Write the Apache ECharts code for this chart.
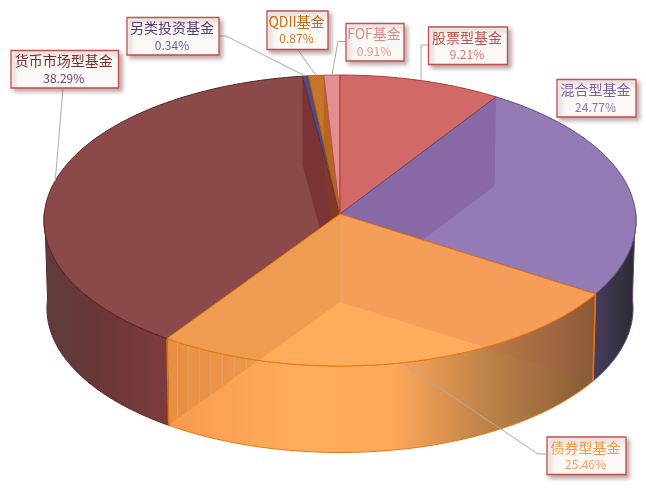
<!DOCTYPE html>
<html><head><meta charset="utf-8">
<style>html,body{margin:0;padding:0;background:#fff}#c{width:646px;height:490px}</style>
<script src="https://cdn.jsdelivr.net/npm/echarts@6/dist/echarts.min.js"></script>
</head><body><div id="c"></div>
<script>
// ---- data ----
const categories = ['股票型基金','混合型基金','债券型基金','货币市场型基金','另类投资基金','QDII基金','FOF基金'];
const shares = [9.21,24.77,25.46,38.29,0.34,0.87,0.91];
const percentLabels = ['9.21%','24.77%','25.46%','38.29%','0.34%','0.87%','0.91%'];
// ---- style ----
const topColors   = ['#D16A66','#957BB5','#FFAC5C','#8B4949','#5A4A78','#C8742B','#E38F90'];
const edgeColors  = ['#A83C3C','#5F4A80','#EC750E','#5C2525','#43365F','#B5600F','#B8505A'];
const textColors  = ['#C0504D','#7B62A8','#F79646','#7B2C2C','#4F3F75','#C56A10','#E08A8A'];
const pctColors   = ['#DE7A70','#8A72BA','#F7A05C','#6F3F5F','#5068A8','#C87828','#E8948C'];
const wallTints = [
  null,
  {start:'rgba(90,40,110,0.22)'},
  {start:'rgba(190,80,80,0.15)', end:'rgba(160,90,30,0.18)'},
  {end:'rgba(90,0,10,0.30)'},
  null,
  {end:'rgba(150,70,0,0.30)'},
  null
];
// box x,y,w,h per label, then the elbow of its leader line
const labelBoxes = [[428.5,27,79,37.5],[557,79.5,79,37.5],[547,437,79,37.5],[11,50.5,107.5,37.5],[127,17.5,92,37.5],[267,11,61,38.5],[346,23.5,58,37.5]];
const leaderStarts = [[428,45],null,[546,454],[63,88],[219,36],[298,50],[345,41.5]];
const leaderElbows = [[421,45],null,[538,454],null,[226,36],null,[338,41.5]];
// draw order of tops
const topOrder = [3,4,5,6,0,1,2];

// ---- projection ----
const CX=340,CY=214,A=295.7,B=145.2,K=0.0447,H=88,S=0.99;
const total = shares.reduce((a,b)=>a+b,0);
const bounds=[0];shares.forEach((v,i)=>bounds.push(bounds[i]+v/total*Math.PI*2));
function proj(t,low){
  const u=Math.sin(t),v=-Math.cos(t),d=1-K*v;
  const s=low?S:1;
  return [CX+s*A*u/d, CY+(low?H:0)+s*B*v/d];
}
const apex=low=>[CX,CY+(low?H:0)];
function arc(t1,t2,low){
  const n=Math.max(2,Math.ceil(Math.abs(t2-t1)/0.015)),p=[];
  for(let i=0;i<=n;i++)p.push(proj(t1+(t2-t1)*i/n,low));
  return p;
}
const G=echarts.graphic.LinearGradient;
const sideFills={
  1:new G(0,0,1,0,[{offset:0,color:'#4A3D5F'},{offset:.5,color:'#393247'},{offset:1,color:'#2B2A35'}]),
  2:new G(0,0,1,0,[{offset:0,color:'#F79A4C'},{offset:.3,color:'#FFAC5C'},{offset:.52,color:'#FFAA5A'},{offset:.63,color:'#E09650'},{offset:.74,color:'#BE8448'},{offset:.88,color:'#A06E40'},{offset:1,color:'#825A32'}]),
  3:new G(0,0,1,0,[{offset:0,color:'#5F3C3C'},{offset:.4,color:'#693636'},{offset:1,color:'#7E3C3C'}])
};
const mk=(pts,style,z2)=>({type:'polygon',shape:{points:pts},style,z2:z2||0,silent:true});

function renderSide(p,api){
  const i=api.value(0);
  if(!sideFills[i])return;
  const a=Math.max(bounds[i],Math.PI/2-0.02),b=Math.min(bounds[i+1],Math.PI*1.5+0.02);
  const pts=arc(a,b,false).concat(arc(b,a,true));
  const kids=[mk(pts,{fill:sideFills[i],stroke:edgeColors[i],lineWidth:1})];
  if(i===2){
    // seams seen through the translucent left wall
    const c0=proj(bounds[3],true),c1=apex(true);
    for(let k=1;k<=8;k++){
      const top=proj(bounds[3]-k*0.0415,false);
      const f=(top[0]-c0[0])/(c1[0]-c0[0]);
      kids.push({type:'line',shape:{x1:top[0],y1:top[1],x2:top[0],y2:c0[1]+(c1[1]-c0[1])*f},
        style:{stroke:'rgba(255,215,160,0.3)',lineWidth:1},z2:2,silent:true});
    }
    [bounds[2],bounds[3]].forEach(t=>{const q=proj(t,false),r=proj(t,true);
      kids.push({type:'line',shape:{x1:q[0],y1:q[1],x2:r[0],y2:r[1]},style:{stroke:edgeColors[2],lineWidth:1.5},z2:3,silent:true});});
  }
  return {type:'group',children:kids};
}
function wall(t){const a=proj(t,false),b=proj(t,true);return [apex(false),a,b,apex(true)];}
function renderTop(p,api){
  const i=api.value(0);
  const z=topOrder.indexOf(i)*10;
  const pts=[apex(false)].concat(arc(bounds[i],bounds[i+1],false));
  const kids=[mk(pts,{fill:topColors[i]},z)];
  const t=wallTints[i];
  if(t&&t.start)kids.push(mk(wall(bounds[i]),{fill:t.start},z+1));
  if(t&&t.end)kids.push(mk(wall(bounds[i+1]),{fill:t.end},z+1));
  kids.push(mk(pts,{fill:'transparent',stroke:edgeColors[i],lineWidth:1,lineJoin:'round'},z+2));
  return {type:'group',children:kids};
}
function renderLeader(p,api){
  const i=api.value(0);
  if(!leaderStarts[i])return;
  const rim=proj((bounds[i]+bounds[i+1])/2,false);
  const pts=[leaderStarts[i]];if(leaderElbows[i])pts.push(leaderElbows[i]);pts.push(rim);
  return {type:'polyline',shape:{points:pts},style:{stroke:'#ABABAB',lineWidth:1,fill:'none'},silent:true};
}
function renderLabel(p,api){
  const i=api.value(0),b=labelBoxes[i];
  const font='"Noto Sans CJK SC","Noto Sans",sans-serif';
  const mid=b[0]+b[2]/2-1;
  return {type:'group',children:[
    {type:'rect',shape:{x:b[0],y:b[1],width:b[2],height:b[3]},
     style:{fill:'#FBF8F6',stroke:'#C0504D',lineWidth:1.3,shadowBlur:4,shadowOffsetX:3,shadowOffsetY:3,shadowColor:'rgba(120,70,70,0.45)'}},
    {type:'text',z2:2,style:{x:mid,y:b[1]+10.5,text:categories[i],fill:textColors[i],font:'14px '+font,align:'center',verticalAlign:'middle'}},
    {type:'text',z2:2,style:{x:mid,y:b[1]+27.5,text:percentLabels[i],fill:pctColors[i],font:'12px '+font,align:'center',verticalAlign:'middle'}}
  ]};
}
const idx=categories.map((_,i)=>[i,shares[i]]);
const ordered=topOrder.map(i=>[i,shares[i]]);
const chart=echarts.init(document.getElementById('c'),null,{renderer:'canvas',width:646,height:490});
chart.setOption({
  animation:false,
  backgroundColor:'#fff',
  series:[
    {type:'custom',coordinateSystem:'none',z:1,silent:true,data:idx,renderItem:renderSide},
    {type:'custom',coordinateSystem:'none',z:2,silent:true,data:ordered,renderItem:renderTop},
    {type:'custom',coordinateSystem:'none',z:3,silent:true,data:idx,renderItem:renderLeader},
    {type:'custom',coordinateSystem:'none',z:4,silent:true,data:idx,renderItem:renderLabel}
  ]
});
</script></body></html>
